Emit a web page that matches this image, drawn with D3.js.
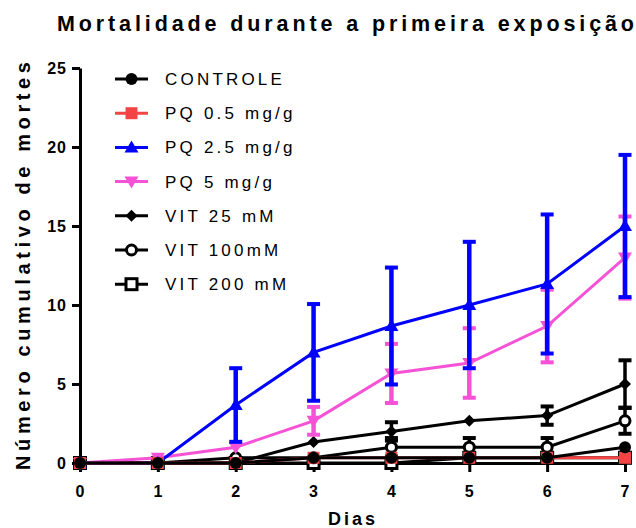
<!DOCTYPE html>
<html><head><meta charset="utf-8">
<script src="https://cdn.jsdelivr.net/npm/d3@7"></script>
<style>body{margin:0;background:#fff}svg{display:block}text{font-family:"Liberation Sans",Arial,sans-serif}</style>
</head><body><svg id="c" width="636" height="528"></svg>
<script>
const days = [0,1,2,3,4,5,6,7];
const yTicks = [0,5,10,15,20,25];
const seriesNames = ["CONTROLE","PQ 0.5 mg/g","PQ 2.5 mg/g","PQ 5 mg/g","VIT 25 mM","VIT 100mM","VIT 200 mM"];
const controle = [0,0,0,0.33,0.33,0.33,0.33,1];
const pq05 = [0,0,0,0.33,0.33,0.33,0.33,0.33];
const pq25 = [0,0,3.67,7,8.67,10,11.33,15];
const pq25Err = [0,0,2.33,3.06,3.7,4,4.4,4.5];
const pq5 = [0,0.33,1,2.67,5.67,6.33,8.67,13];
const pq5Err = [0,0,0,0.88,1.87,2.2,2.3,2.6];
const vit25 = [0,0,0,1.33,2,2.67,3,5];
const vit25Err = [0,0,0,0,0.58,0,0.58,1.5];
const vit100 = [0,0,0.33,0.33,1,1,1,2.67];
const vit100Err = [0,0,0,0,0.58,0.58,0.58,0.82];
const vit200 = [0,0,0,0,0,0.33,0.33,0.33];

const styles = [
  {color:"#000", sym:"circle", fill:"#000"},
  {color:"#F24444", sym:"square", fill:"#F24444"},
  {color:"#0000FF", sym:"triangle", fill:"#0000FF"},
  {color:"#F552D6", sym:"down", fill:"#F552D6"},
  {color:"#000", sym:"diamond", fill:"#000"},
  {color:"#000", sym:"ocircle", fill:"#fff"},
  {color:"#000", sym:"osquare", fill:"#fff"}
];
const vals = [controle,pq05,pq25,pq5,vit25,vit100,vit200];
const errs = [null,null,pq25Err,pq5Err,vit25Err,vit100Err,null];

const svg = d3.select("#c");
const x = d3.scaleLinear().domain([0,7]).range([80,625]);
const y = d3.scaleLinear().domain([0,25]).range([463,68]);

// title
svg.append("text").attr("x",57).attr("y",31).attr("font-size",21.5).attr("font-weight","bold")
  .attr("textLength",577).attr("lengthAdjust","spacing").text("Mortalidade durante a primeira exposição");

// axes
const ya = svg.append("g").attr("transform","translate(80,0)")
  .call(d3.axisLeft(y).tickValues(yTicks).tickFormat(d3.format("d")).tickSize(8).tickSizeOuter(0).tickPadding(5));
const xa = svg.append("g").attr("transform","translate(0,463)")
  .call(d3.axisBottom(x).tickValues(days).tickFormat(d3.format("d")).tickSize(9).tickSizeOuter(0).tickPadding(14));
[ya,xa].forEach(g=>{
  g.select(".domain").attr("stroke","#000").attr("stroke-width",3);
  g.selectAll(".tick line").attr("stroke","#000").attr("stroke-width",3);
  g.selectAll(".tick text").attr("font-size",16).attr("font-weight","bold").attr("fill","#000")
    .attr("font-family","'Liberation Sans',Arial,sans-serif").attr("letter-spacing",1);
});

svg.append("text").attr("x",353).attr("y",525).attr("text-anchor","middle").attr("font-size",18)
  .attr("font-weight","bold").attr("letter-spacing",3).text("Dias");
svg.append("text").attr("transform","translate(30,470) rotate(-90)").attr("font-size",20)
  .attr("font-weight","bold").attr("textLength",408).attr("lengthAdjust","spacing")
  .text("Número cumulativo de mortes");

function drawSym(g, sym, cx, cy, st, scale){
  const s = scale||1;
  if(sym==="circle") g.append("circle").attr("cx",cx).attr("cy",cy).attr("r",6*s).attr("fill",st.fill);
  else if(sym==="ocircle") g.append("circle").attr("cx",cx).attr("cy",cy).attr("r",5*s).attr("fill","#fff").attr("stroke","#000").attr("stroke-width",3);
  else if(sym==="square") g.append("rect").attr("x",cx-6*s).attr("y",cy-6*s).attr("width",12*s).attr("height",12*s).attr("fill",st.fill);
  else if(sym==="osquare") g.append("rect").attr("x",cx-5.5*s).attr("y",cy-5.5*s).attr("width",11*s).attr("height",11*s).attr("fill","#fff").attr("stroke","#000").attr("stroke-width",3);
  else if(sym==="triangle") g.append("path").attr("d",`M${cx},${cy-7*s}L${cx+7*s},${cy+5*s}L${cx-7*s},${cy+5*s}Z`).attr("fill",st.fill);
  else if(sym==="down") g.append("path").attr("d",`M${cx},${cy+7*s}L${cx+7*s},${cy-5*s}L${cx-7*s},${cy-5*s}Z`).attr("fill",st.fill);
  else if(sym==="diamond") g.append("path").attr("d",`M${cx},${cy-6*s}L${cx+6*s},${cy}L${cx},${cy+6*s}L${cx-6*s},${cy}Z`).attr("fill",st.fill);
}

const line = d3.line().x((d,i)=>x(days[i])).y(d=>y(d));
const plot = svg.append("g");
for(let k=vals.length-1;k>=0;k--){
  const st = styles[k], v = vals[k], e = errs[k];
  const g = plot.append("g");
  if(e){
    days.forEach((d,i)=>{
      if(!e[i]) return;
      const w = st.color==="#000"?3.5:4.5;
      g.append("line").attr("x1",x(d)).attr("x2",x(d)).attr("y1",y(v[i]-e[i])).attr("y2",y(v[i]+e[i]))
        .attr("stroke",st.color).attr("stroke-width",w);
      [v[i]-e[i],v[i]+e[i]].forEach(t=>g.append("line").attr("x1",x(d)-6.5).attr("x2",x(d)+6.5)
        .attr("y1",y(t)).attr("y2",y(t)).attr("stroke",st.color).attr("stroke-width",4));
    });
  }
  g.append("path").attr("d",line(v)).attr("fill","none").attr("stroke",st.color).attr("stroke-width",3);
  days.forEach((d,i)=>drawSym(g, st.sym, x(d), y(v[i]), st));
}

// legend
const leg = svg.append("g");
seriesNames.forEach((n,i)=>{
  const cy = 79 + i*34.2;
  const st = styles[i];
  leg.append("line").attr("x1",115).attr("x2",148).attr("y1",cy).attr("y2",cy).attr("stroke",st.color).attr("stroke-width",3);
  drawSym(leg, st.sym, 131.5, cy, st);
  leg.append("text").attr("x",165).attr("y",cy+6).attr("font-size",17).attr("letter-spacing",3.2).text(n);
});
</script></body></html>
